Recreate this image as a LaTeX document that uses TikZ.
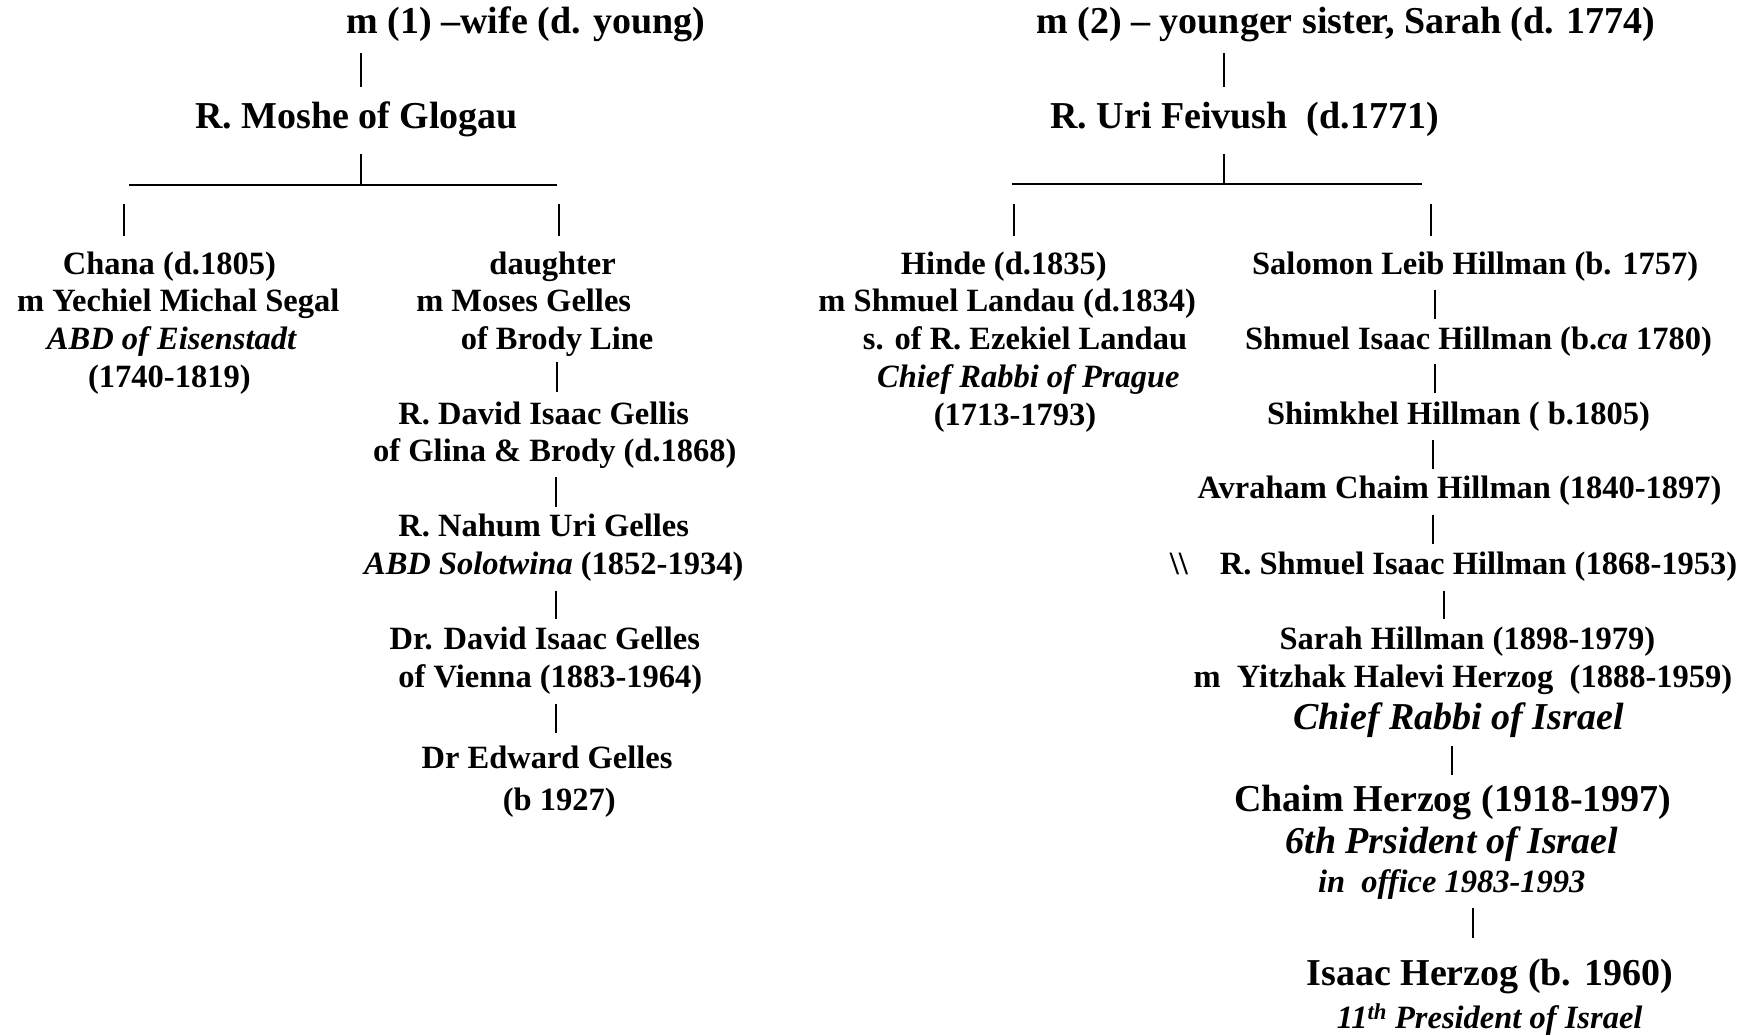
\documentclass[tikz,border=0pt]{standalone}
\usepackage{fontspec}
\setmainfont{Liberation Serif}
\begin{document}
\begin{tikzpicture}[x=1.1142pt, y=-1.1142pt,
  t/.style={anchor=base, inner sep=0pt, font=\fontsize{32.5}{39}\selectfont\bfseries},
  ti/.style={anchor=base, inner sep=0pt, font=\fontsize{32.5}{39}\selectfont\bfseries\itshape},
  big/.style={anchor=base, inner sep=0pt, font=\fontsize{38}{45}\selectfont\bfseries},
  bigi/.style={anchor=base, inner sep=0pt, font=\fontsize{38}{45}\selectfont\bfseries\itshape},
  bar/.style={line width=2pt, black},
  rule/.style={line width=2.4pt, black}]
\useasboundingbox (0,0) rectangle (1568,929);

% ---- top generation
\node[big] (m1) at (472,30.5) {m (1) –wife (d. young)};
\node[big] (m2) at (1208,30.5) {m (2) – younger sister, Sarah (d. 1774)};
\node[big] (moshe) at (320,115.5) {R. Moshe of Glogau};
\node[big] (uri) at (1117,115.5) {R. Uri Feivush\ \ (d.1771)};

% ---- column 1
\node[t] (chana1) at (152,246.7) {Chana (d.1805)};
\node[t] (chana2) at (160,279.7) {m Yechiel Michal Segal};
\node[ti] (chana3) at (154,313.7) {ABD of Eisenstadt};
\node[t] (chana4) at (152,347.7) {(1740-1819)};

% ---- column 2
\node[t] (dau1) at (496,246.7) {daughter};
\node[t] (dau2) at (470,279.7) {m Moses Gelles};
\node[t] (dau3) at (500,313.7) {of Brody Line};
\node[t] (dav1) at (488,380.7) {R. David Isaac Gellis};
\node[t] (dav2) at (498,414.5) {of Glina \& Brody (d.1868)};
\node[t] (nah1) at (488,481.7) {R. Nahum Uri Gelles};
\node[t] (nah2) at (497,515.7) {\textit{ABD Solotwina} (1852-1934)};
\node[t] (dr1) at (489,582.7) {Dr. David Isaac Gelles};
\node[t] (dr2) at (494,616.7) {of Vienna (1883-1964)};
\node[t] (ed1) at (491,689.5) {Dr Edward Gelles};
\node[t] (ed2) at (502,727.5) {(b 1927)};

% ---- column 3
\node[t] (hin1) at (901,246.7) {Hinde (d.1835)};
\node[t] (hin2) at (904,279.7) {m Shmuel Landau (d.1834)};
\node[t] (hin3) at (920,313.7) {s. of R. Ezekiel Landau};
\node[ti] (hin4) at (923,347.7) {Chief Rabbi of Prague};
\node[t] (hin5) at (911,381.7) {(1713-1793)};

% ---- column 4
\node[t] (sal) at (1324,246.7) {Salomon Leib Hillman (b. 1757)};
\node[t] (shm) at (1327,313.7) {Shmuel Isaac Hillman (b.\textit{ca} 1780)};
\node[t] (shk) at (1309,380.7) {Shimkhel Hillman ( b.1805)};
\node[t] (avr) at (1310,447.7) {Avraham Chaim Hillman (1840-1897)};
\node[t] (bsl) at (1058,515.7) {\textbackslash\textbackslash};
\node[t] (rsh) at (1327,515.7) {R. Shmuel Isaac Hillman (1868-1953)};
\node[t] (sar1) at (1317,582.7) {Sarah Hillman (1898-1979)};
\node[t] (sar2) at (1313,616.7) {m\ \ Yitzhak Halevi Herzog\ \ (1888-1959)};
\node[bigi] (sar3) at (1309,654.3) {Chief Rabbi of Israel};
\node[big] (ch1) at (1304,728.3) {Chaim Herzog (1918-1997)};
\node[bigi] (ch2) at (1303,766.3) {6th Prsident of Israel};
\node[ti] (ch3) at (1303,800.7) {in\ \ office 1983-1993};
\node[big] (is1) at (1337,884.3) {Isaac Herzog (b. 1960)};
\node[ti] (is2) at (1337,922.7) {11\textsuperscript{th} President of Israel};

% ---- connector end points
\coordinate (a1) at (324,48);   \coordinate (a2) at (324,78);
\coordinate (b1) at (1099,48);  \coordinate (b2) at (1099,78);
\coordinate (c1) at (324,138);  \coordinate (c2) at (324,167);
\coordinate (d1) at (1099,138); \coordinate (d2) at (1099,166);
\coordinate (hl1) at (116,166); \coordinate (hl2) at (500,166);
\coordinate (hr1) at (908,165); \coordinate (hr2) at (1276,165);
\coordinate (e1) at (111,183);  \coordinate (e2) at (111,212);
\coordinate (f1) at (502,183);  \coordinate (f2) at (502,212);
\coordinate (g1) at (910,183);  \coordinate (g2) at (910,212);
\coordinate (h1) at (1284,183); \coordinate (h2) at (1284,212);
\coordinate (i1) at (500,325);  \coordinate (i2) at (500,352);
\coordinate (j1) at (499,428);  \coordinate (j2) at (499,455);
\coordinate (k1) at (499,530);  \coordinate (k2) at (499,556);
\coordinate (l1) at (499,632);  \coordinate (l2) at (499,658);
\coordinate (n1) at (1288,260); \coordinate (n2) at (1288,286);
\coordinate (o1) at (1288,327); \coordinate (o2) at (1288,353);
\coordinate (p1) at (1286,395); \coordinate (p2) at (1286,421);
\coordinate (q1) at (1286,462); \coordinate (q2) at (1286,488);
\coordinate (r1) at (1296,530); \coordinate (r2) at (1296,556);
\coordinate (s1) at (1303,670); \coordinate (s2) at (1303,696);
\coordinate (u1) at (1322,815); \coordinate (u2) at (1322,842);

% ---- connectors
\draw[bar] (a1) -- (a2);
\draw[bar] (b1) -- (b2);
\draw[bar] (c1) -- (c2);
\draw[bar] (d1) -- (d2);
\draw[rule] (hl1) -- (hl2);
\draw[rule] (hr1) -- (hr2);
\draw[bar] (e1) -- (e2);
\draw[bar] (f1) -- (f2);
\draw[bar] (g1) -- (g2);
\draw[bar] (h1) -- (h2);
\draw[bar] (i1) -- (i2);
\draw[bar] (j1) -- (j2);
\draw[bar] (k1) -- (k2);
\draw[bar] (l1) -- (l2);
\draw[bar] (n1) -- (n2);
\draw[bar] (o1) -- (o2);
\draw[bar] (p1) -- (p2);
\draw[bar] (q1) -- (q2);
\draw[bar] (r1) -- (r2);
\draw[bar] (s1) -- (s2);
\draw[bar] (u1) -- (u2);
\end{tikzpicture}
\end{document}
